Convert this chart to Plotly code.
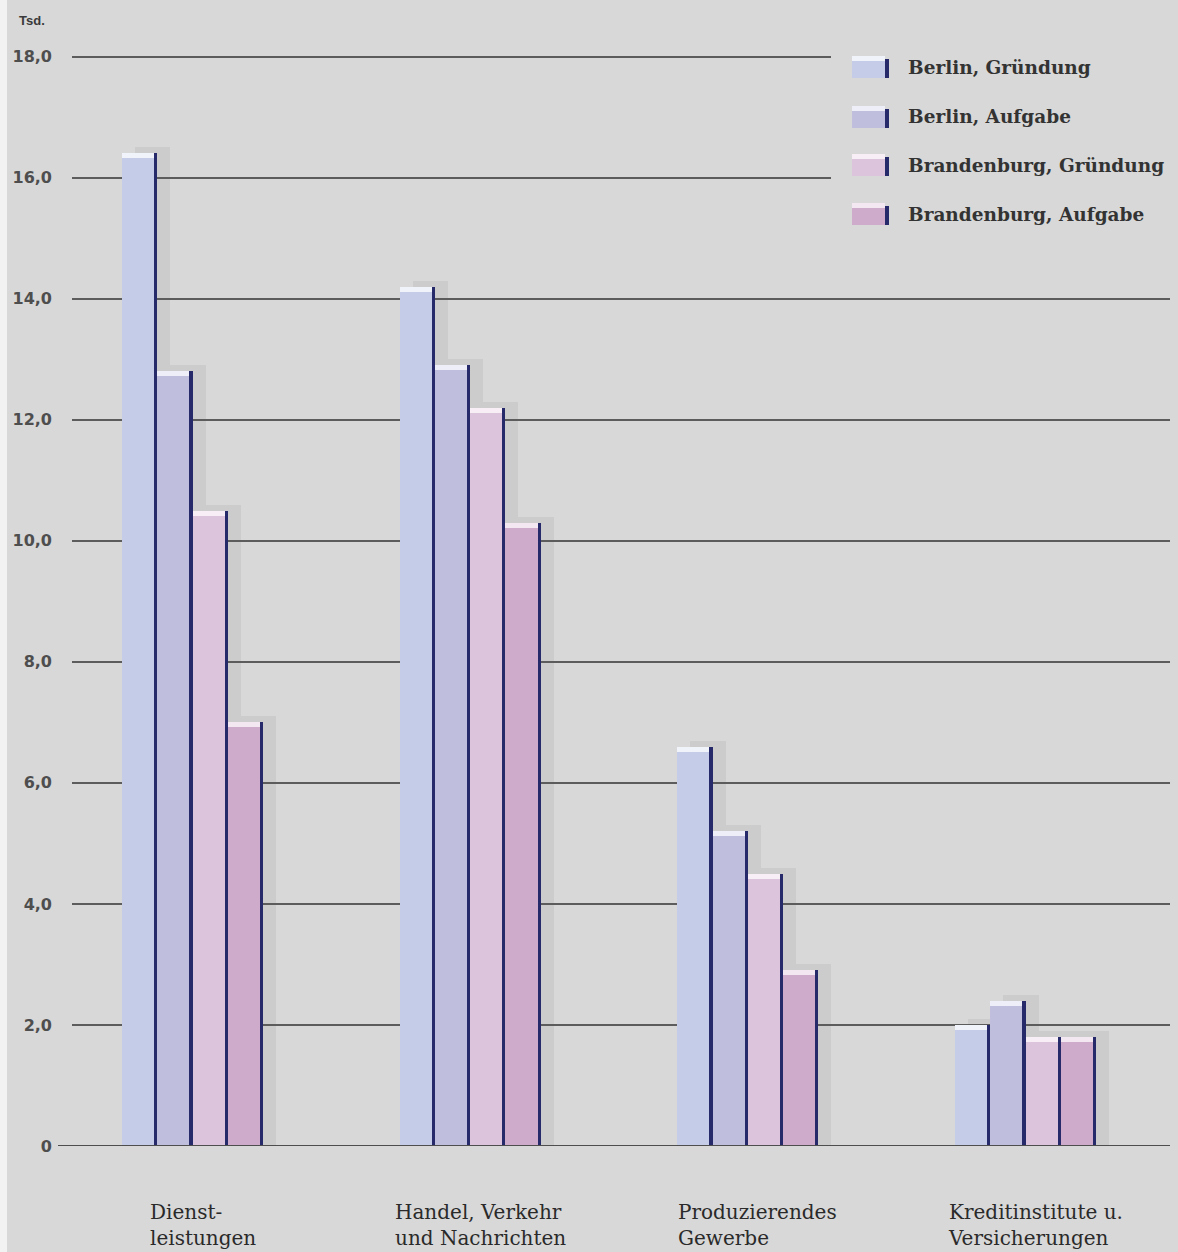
import plotly.graph_objects as go

# Data (Tsd.)
categories = ["Dienst-\nleistungen", "Handel, Verkehr\nund Nachrichten",
              "Produzierendes\nGewerbe", "Kreditinstitute u.\nVersicherungen"]
series_names = ["Berlin, Gründung", "Berlin, Aufgabe",
                "Brandenburg, Gründung", "Brandenburg, Aufgabe"]
berlin_gruendung = [16.4, 14.2, 6.6, 2.0]
berlin_aufgabe = [12.8, 12.9, 5.2, 2.4]
brandenburg_gruendung = [10.5, 12.2, 4.5, 1.8]
brandenburg_aufgabe = [7.0, 10.3, 2.9, 1.8]
tick_values = [0, 2, 4, 6, 8, 10, 12, 14, 16, 18]
tick_labels = ["0", "2,0", "4,0", "6,0", "8,0", "10,0", "12,0", "14,0", "16,0", "18,0"]

series_values = [berlin_gruendung, berlin_aufgabe, brandenburg_gruendung, brandenburg_aufgabe]

# Styling
W, H = 1178, 1252
Y_MIN, Y_MAX = 0, 18.06
X_MIN, X_MAX = -0.434, 3.52
PX_Y = 60.5
M_L, M_R, M_B = 72, 8, 106
M_T = int(round(H - M_B - PX_Y * (Y_MAX - Y_MIN)))
PLOT_W = W - M_L - M_R
PLOT_H = H - M_T - M_B
PX_X = PLOT_W / (X_MAX - X_MIN)

BAR_W = 35.25 / PX_X
EDGE_W = 3.2 / PX_X
CAP_H = 5 / PX_Y
SHADOW_DX = 13 / PX_X
SHADOW_DY = 6 / PX_Y

BG = "#d8d8d8"
EDGE = "#262a6b"
fills = ["#c4cce8", "#bfbfdd", "#dcc4dd", "#ceabca"]
caps = ["#f1f3fb", "#eeeef8", "#f7eef6", "#f3e8f1"]
SERIF = "DejaVu Serif"
SANS = "DejaVu Sans"


def px_to_paper_x(p):
    return (p - M_L) / PLOT_W


def px_to_paper_y(p):
    return (H - M_B - p) / PLOT_H


xs = list(range(len(categories)))
offsets = [-2 * BAR_W + i * BAR_W for i in range(len(series_names))]

fig = go.Figure()

# soft drop shadows behind the bars
for i, vals in enumerate(series_values):
    fig.add_trace(go.Bar(
        x=xs, y=[v + SHADOW_DY for v in vals], offset=offsets[i] + SHADOW_DX, width=BAR_W,
        marker=dict(color="rgba(100,100,100,0.10)", line=dict(width=0)),
        hoverinfo="skip", showlegend=False))

for i, (name, vals) in enumerate(zip(series_names, series_values)):
    # bar body
    fig.add_trace(go.Bar(
        x=xs, y=vals, offset=offsets[i], width=BAR_W - EDGE_W, name=name,
        marker=dict(color=fills[i], line=dict(width=0)), showlegend=False,
        hovertemplate=name + ": %{y:.1f} Tsd.<extra></extra>"))
    # dark right side
    fig.add_trace(go.Bar(
        x=xs, y=vals, offset=offsets[i] + BAR_W - EDGE_W, width=EDGE_W,
        marker=dict(color=EDGE, line=dict(width=0)), hoverinfo="skip", showlegend=False))
    # light top face
    fig.add_trace(go.Bar(
        x=xs, y=[CAP_H] * len(vals), base=[v - CAP_H for v in vals],
        offset=offsets[i], width=BAR_W - EDGE_W,
        marker=dict(color=caps[i], line=dict(width=0)), hoverinfo="skip", showlegend=False))

shapes = []
# pale margin strip at the left edge
shapes.append(dict(type="rect", xref="paper", yref="paper",
                   x0=px_to_paper_x(0), x1=px_to_paper_x(7),
                   y0=px_to_paper_y(H), y1=px_to_paper_y(0),
                   fillcolor="#f2f2f2", line=dict(width=0), layer="below"))
# baseline
shapes.append(dict(type="line", xref="paper", yref="y",
                   x0=px_to_paper_x(58), x1=1, y0=0, y1=0,
                   line=dict(color="#4e4e4e", width=2.2), layer="above"))
# legend panel covers the upper gridlines
shapes.append(dict(type="rect", xref="paper", yref="paper",
                   x0=px_to_paper_x(831), x1=px_to_paper_x(W + 5),
                   y0=px_to_paper_y(238), y1=px_to_paper_y(38),
                   fillcolor=BG, line=dict(width=0), layer="above"))

annotations = []
legend_y = [67, 117, 165, 214]
for i, name in enumerate(series_names):
    cy = legend_y[i]
    top, bot = cy - 11, cy + 11
    shapes.append(dict(type="rect", xref="paper", yref="paper",
                       x0=px_to_paper_x(852), x1=px_to_paper_x(885),
                       y0=px_to_paper_y(bot), y1=px_to_paper_y(top),
                       fillcolor=fills[i], line=dict(width=0), layer="above"))
    shapes.append(dict(type="rect", xref="paper", yref="paper",
                       x0=px_to_paper_x(852), x1=px_to_paper_x(885),
                       y0=px_to_paper_y(top + 5), y1=px_to_paper_y(top),
                       fillcolor=caps[i], line=dict(width=0), layer="above"))
    shapes.append(dict(type="rect", xref="paper", yref="paper",
                       x0=px_to_paper_x(885), x1=px_to_paper_x(889),
                       y0=px_to_paper_y(bot), y1=px_to_paper_y(top + 3),
                       fillcolor=EDGE, line=dict(width=0), layer="above"))
    annotations.append(dict(xref="paper", yref="paper",
                            x=px_to_paper_x(906), y=px_to_paper_y(cy),
                            xanchor="left", yanchor="middle", showarrow=False,
                            text="<b>" + name + "</b>",
                            font=dict(family=SERIF, size=18.5, color="#333333")))

# category labels below the axis
for i, cat in enumerate(categories):
    annotations.append(dict(xref="x", yref="paper", x=xs[i], xshift=10,
                            y=px_to_paper_y(1198), xanchor="center", yanchor="top",
                            align="left", showarrow=False,
                            text=cat.replace("\n", "<br>"),
                            font=dict(family=SERIF, size=20, color="#2a2a2a")))

# unit label
annotations.append(dict(xref="paper", yref="paper", x=px_to_paper_x(17), y=px_to_paper_y(21),
                        xanchor="left", yanchor="middle", showarrow=False, text="<b>Tsd.</b>",
                        font=dict(family="Liberation Sans", size=13, color="#3a3a3a")))

fig.update_layout(
    width=W, height=H,
    margin=dict(l=M_L, r=M_R, t=M_T, b=M_B, pad=0),
    paper_bgcolor=BG, plot_bgcolor=BG,
    barmode="overlay", bargap=0,
    showlegend=False,
    shapes=shapes, annotations=annotations,
    xaxis=dict(range=[X_MIN, X_MAX], showgrid=False, zeroline=False,
               showticklabels=False, showline=False, fixedrange=True),
    yaxis=dict(range=[Y_MIN, Y_MAX], tickvals=tick_values, ticktext=tick_labels,
               showgrid=True, gridcolor="#5c5c5c", gridwidth=2, zeroline=False,
               showline=False, ticks="", ticklabelstandoff=19,
               tickfont=dict(family=SANS, size=16, color="#4e4e4e", weight="bold"),
               fixedrange=True),
)

fig.write_html("out.html")
